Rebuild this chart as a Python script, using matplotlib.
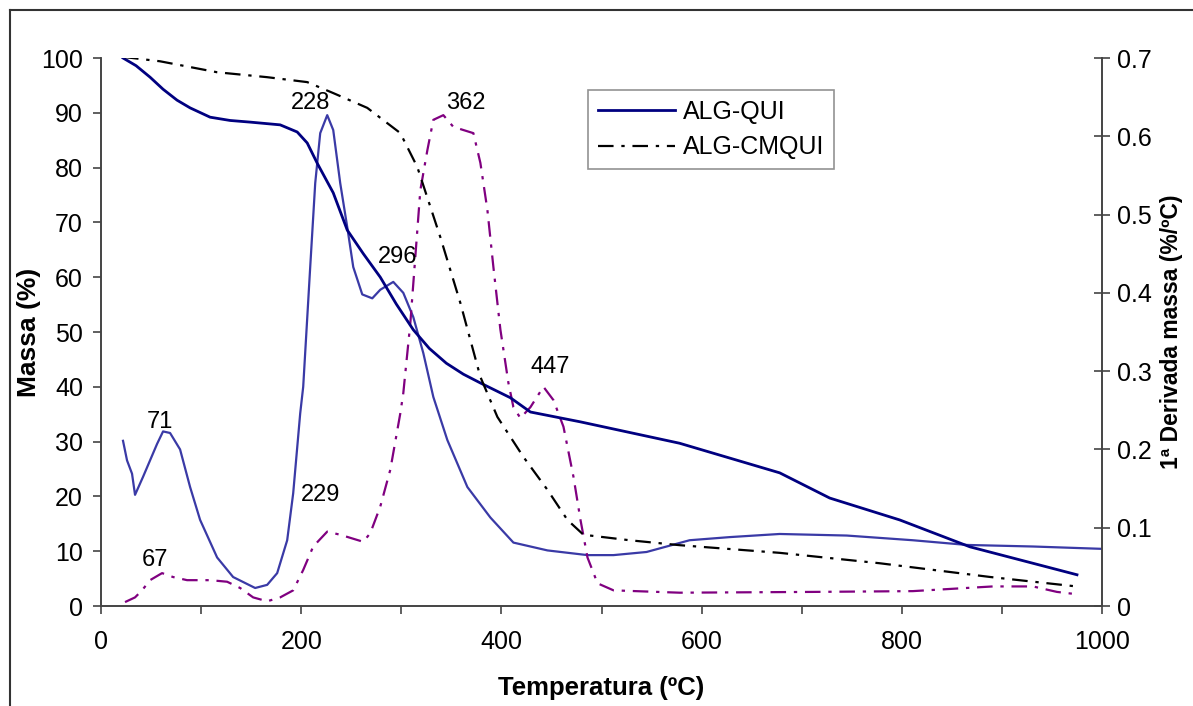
import matplotlib
matplotlib.use('Agg')
import matplotlib.pyplot as plt
from matplotlib.lines import Line2D

plt.rcParams['font.family'] = ['Liberation Sans', 'DejaVu Sans']

# massa (%) - eixo esquerdo
t_qui = [22, 35, 49, 62, 76, 89, 109, 129, 149, 179, 196, 206, 216, 232, 246, 262,
         279, 295, 312, 328, 345, 362, 379, 409, 429, 479, 578, 678, 728, 798, 868, 975]
m_qui = [100, 98.6, 96.5, 94.3, 92.3, 90.9, 89.2, 88.6, 88.3, 87.8, 86.5, 84.5, 80.8,
         75.4, 68.6, 64.3, 60, 55.1, 50.4, 47, 44.3, 42.3, 40.7, 38, 35.4, 33.6, 29.7,
         24.3, 19.7, 15.7, 10.8, 5.7]

t_cm = [22, 59, 116, 166, 206, 232, 266, 299, 316, 339, 359, 379, 396, 422, 446,
        466, 482, 528, 578, 678, 778, 888, 973]
m_cm = [100.2, 99.4, 97.4, 96.5, 95.6, 93.6, 90.9, 86.3, 80.1, 67.3, 55.3, 41.8,
        34.5, 27.2, 21.2, 15.7, 13, 12, 11.1, 9.7, 7.8, 5.3, 3.6]

# 1a derivada (%/ºC) - eixo direito
td_qui = [22, 26, 31, 34, 42, 49, 56, 62, 69, 79, 89, 99, 116, 132, 154, 166, 176, 186,
          192, 199, 202, 209, 214, 219, 226, 232, 239, 246, 252, 261, 271, 279, 292,
          302, 312, 322, 332, 346, 366, 389, 412, 446, 486, 512, 545, 588, 628, 678,
          745, 811, 865, 931, 1000]
d_qui = [0.211, 0.186, 0.169, 0.142, 0.165, 0.186, 0.207, 0.223, 0.221, 0.200, 0.152,
         0.110, 0.062, 0.037, 0.023, 0.027, 0.042, 0.084, 0.144, 0.246, 0.280, 0.433,
         0.540, 0.604, 0.627, 0.608, 0.540, 0.484, 0.433, 0.398, 0.393, 0.404, 0.414,
         0.400, 0.369, 0.323, 0.267, 0.212, 0.152, 0.113, 0.081, 0.071, 0.065, 0.065,
         0.069, 0.084, 0.088, 0.092, 0.090, 0.084, 0.078, 0.076, 0.073]

td_cm = [24, 34, 41, 49, 61, 72, 86, 109, 126, 139, 152, 166, 179, 192, 202, 212, 226,
         239, 262, 269, 279, 289, 299, 302, 309, 314, 319, 326, 332, 342, 352, 362,
         372, 379, 386, 392, 399, 407, 412, 419, 429, 442, 452, 462, 472, 479, 486,
         496, 512, 578, 711, 811, 891, 931, 955, 975]
d_cm = [0.005, 0.011, 0.020, 0.033, 0.042, 0.037, 0.033, 0.033, 0.031, 0.023, 0.011,
        0.006, 0.011, 0.020, 0.046, 0.076, 0.095, 0.091, 0.082, 0.093, 0.127, 0.174,
        0.246, 0.272, 0.361, 0.446, 0.531, 0.582, 0.621, 0.627, 0.612, 0.608, 0.604,
        0.566, 0.506, 0.433, 0.353, 0.285, 0.254, 0.240, 0.254, 0.280, 0.263, 0.229,
        0.165, 0.110, 0.062, 0.029, 0.020, 0.017, 0.018, 0.019, 0.025, 0.025, 0.018,
        0.015]

# rótulos dos picos (posição em T, massa)
peak_txt = ['71', '67', '228', '229', '296', '362', '447']
peak_t = [59, 54, 209, 219, 296, 364, 449]
peak_y = [33.6, 8.4, 91.8, 20.3, 63.7, 91.8, 43.6]

W, H = 1193, 706
fig = plt.figure(figsize=(W / 100, H / 100), dpi=100)
ax = fig.add_axes([101 / W, 1 - 606 / H, 1001 / W, 548 / H])
ax2 = ax.twinx()

dash = (0, (7, 3.5, 1.5, 3.5))
ax2.plot(td_qui, d_qui, color='#3a3aa6', lw=1.6)
ax2.plot(td_cm, d_cm, color='#800080', lw=1.6, linestyle=dash)
l1, = ax.plot(t_qui, m_qui, color='#000080', lw=2, label='ALG-QUI')
l2, = ax.plot(t_cm, m_cm, color='black', lw=1.6, linestyle=dash, label='ALG-CMQUI')
ax.set_zorder(ax2.get_zorder() + 1)
ax.patch.set_visible(False)

for s, tx, ty in zip(peak_txt, peak_t, peak_y):
    ax.text(tx, ty, s, ha='center', va='center', fontsize=17)

spc = '#444444'
ax.set_xlim(0, 1000)
ax.set_ylim(0, 100)
ax2.set_ylim(0, 0.7)
ax.set_xticks(range(0, 1001, 200))
ax.set_xticks(range(100, 1000, 200), minor=True)
ax.set_yticks(range(0, 101, 10))
ax2.set_yticks([i / 10 for i in range(8)])
ax2.set_yticklabels(['0'] + ['%.1f' % (i / 10) for i in range(1, 8)])

ax.tick_params(axis='both', which='both', direction='out', length=6, width=1.2,
               color=spc, labelsize=18, pad=7)
ax.tick_params(axis='x', pad=11)
ax2.tick_params(axis='y', direction='inout', length=12, width=1.2, color=spc,
                labelsize=18, pad=5)
for a in (ax, ax2):
    a.spines['top'].set_visible(False)
    for k in ('left', 'right', 'bottom'):
        a.spines[k].set_color(spc)
        a.spines[k].set_linewidth(1.2)

ax.set_xlabel('Temperatura (ºC)', fontsize=18.5, fontweight='bold')
ax.set_ylabel('Massa (%)', fontsize=19, fontweight='bold')
ax.xaxis.set_label_coords(0.5, -0.127)
ax.yaxis.set_label_coords(-0.06, 0.5)
ax2.set_ylabel('1ª Derivada massa (%/ºC)', fontsize=16.5, fontweight='bold', labelpad=6)

leg = ax.legend(handles=[l1, l2], loc='upper left', bbox_to_anchor=(0.4865, 0.9416),
                borderaxespad=0, fancybox=False, fontsize=18, handlelength=3.1,
                handletextpad=0.3, frameon=True, labelspacing=0.45, borderpad=0.4)
leg.get_frame().set_edgecolor('#777777')
leg.get_frame().set_linewidth(1.2)

# moldura externa do gráfico
fig.add_artist(Line2D([10 / W, 10 / W], [0, 1 - 10 / H], color='#333333', lw=1.5))
fig.add_artist(Line2D([10 / W, 1], [1 - 10 / H, 1 - 10 / H], color='#333333', lw=1.5))

fig.savefig('out.png', dpi=100)
